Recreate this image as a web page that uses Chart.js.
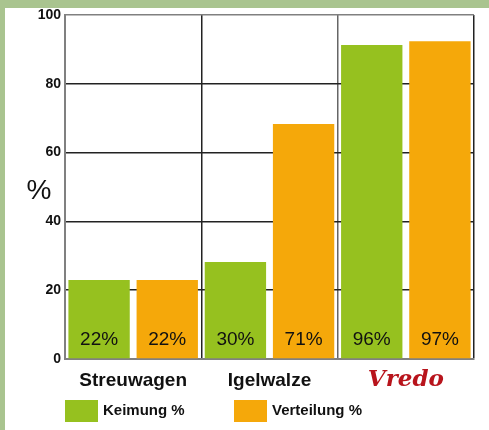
<!doctype html>
<html>
<head>
	<title>Keimung und Verteilung</title>
	<meta charset="UTF-8">
	<script src="https://cdn.jsdelivr.net/npm/chart.js@4/dist/chart.umd.min.js"></script>
	<style>
		body { margin: 0; background: #a9c48f; }
		canvas { display: block; }
	</style>
</head>
<body>
<canvas id="chart-area" width="489" height="430"></canvas>
<script>
	// Daten
	var categories = ['Streuwagen', 'Igelwalze', 'Vredo'];
	var keimung = [23, 28.2, 91.3];
	var verteilung = [23, 68.3, 92.4];
	var keimungText = ['22%', '30%', '96%'];
	var verteilungText = ['22%', '71%', '97%'];
	var seriesNames = ['Keimung %', 'Verteilung %'];

	var GREEN = '#96c11f';
	var ORANGE = '#f5a80a';
	var FONT = '"Liberation Sans", Arial, sans-serif';

	// Hintergrund: gruener Rand, weisse Flaeche
	var panelPlugin = {
		id: 'panel',
		beforeDraw: function (chart) {
			var c = chart.ctx;
			c.save();
			c.fillStyle = '#a9c48f';
			c.fillRect(0, 0, chart.width, chart.height);
			c.fillStyle = '#ffffff';
			c.fillRect(5, 8, chart.width - 5, chart.height - 8);
			c.restore();
		}
	};

	// Prozentwerte unten in den Balken, "%" Titel, Legende
	var extrasPlugin = {
		id: 'extras',
		afterDatasetsDraw: function (chart) {
			var c = chart.ctx;
			var texts = [keimungText, verteilungText];
			var y0 = chart.scales.y.getPixelForValue(0);
			c.save();
			c.font = '19px ' + FONT;
			c.fillStyle = '#111';
			c.textAlign = 'center';
			c.textBaseline = 'middle';
			chart.data.datasets.forEach(function (ds, i) {
				chart.getDatasetMeta(i).data.forEach(function (bar, j) {
					c.fillText(texts[i][j], bar.x, y0 - 19);
				});
			});
			c.restore();
		},
		afterDraw: function (chart) {
			var c = chart.ctx;
			c.save();
			c.fillStyle = '#111';
			c.font = '28px ' + FONT;
			c.textAlign = 'center';
			c.textBaseline = 'middle';
			c.fillText('%', 39, 191);

			var legendX = [65, 234];
			c.font = 'bold 15px ' + FONT;
			c.textAlign = 'left';
			chart.data.datasets.forEach(function (ds, i) {
				c.fillStyle = ds.backgroundColor;
				c.fillRect(legendX[i], 400, 33, 22);
				c.fillStyle = '#111';
				c.fillText(ds.label, legendX[i] + 38, 411);
			});
			c.restore();
		}
	};

	var config = {
		type: 'bar',
		data: {
			labels: categories,
			datasets: [
				{ label: seriesNames[0], data: keimung, backgroundColor: GREEN },
				{ label: seriesNames[1], data: verteilung, backgroundColor: ORANGE }
			]
		},
		options: {
			responsive: false,
			animation: false,
			layout: { padding: { top: 15, right: 15, bottom: 36, left: 0 } },
			datasets: {
				bar: { categoryPercentage: 1.0, barPercentage: 0.9 }
			},
			plugins: {
				legend: { display: false },
				tooltip: { enabled: false }
			},
			scales: {
				x: {
					grid: {
						color: function (ctx) { return ctx.index === 2 ? '#666' : '#222'; },
						lineWidth: 1.5,
						drawTicks: false
					},
					border: { color: '#808080', width: 2 },
					ticks: {
						padding: 10,
						color: function (ctx) { return ctx.index === 2 ? '#b8141c' : '#111'; },
						font: function (ctx) {
							if (ctx.index === 2) {
								return { family: '"DejaVu Serif", serif', size: 23, style: 'italic', weight: 'bold', lineHeight: 1 };
							}
							return { family: FONT, size: 19, weight: 'bold', lineHeight: 1.2 };
						}
					},
					afterFit: function (scale) { scale.height = 35; }
				},
				y: {
					min: 0,
					max: 100,
					grid: {
						color: function (ctx) { return ctx.tick && ctx.tick.value === 100 ? '#808080' : '#222'; },
						lineWidth: 1.5,
						drawTicks: false
					},
					border: { color: '#808080', width: 2 },
					ticks: {
						stepSize: 20,
						padding: 4,
						color: '#111',
						font: { family: FONT, size: 14, weight: 'bold' }
					},
					afterFit: function (scale) { scale.width = 65; }
				}
			}
		},
		plugins: [panelPlugin, extrasPlugin]
	};

	window.myBar = new Chart(document.getElementById('chart-area').getContext('2d'), config);
</script>
</body>
</html>
